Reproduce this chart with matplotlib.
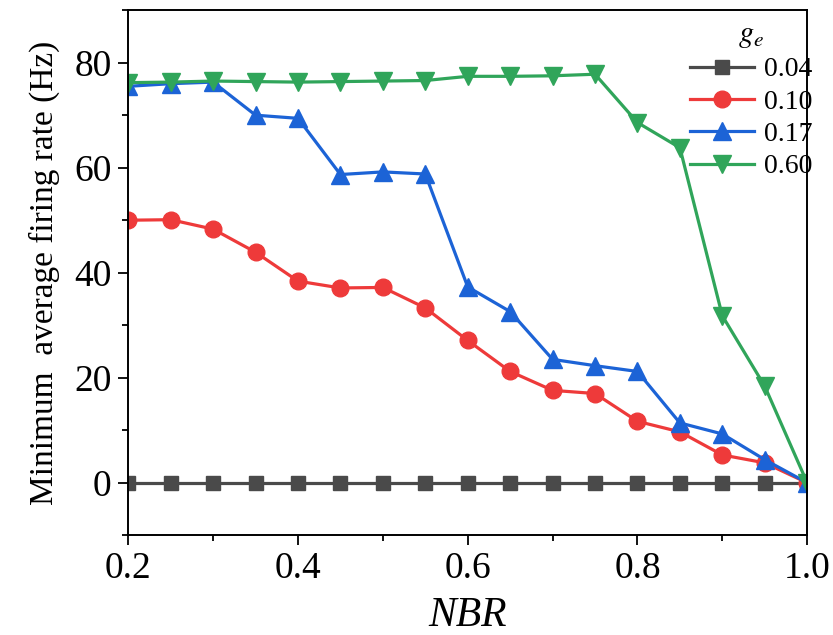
import matplotlib
matplotlib.use("Agg")
import matplotlib.pyplot as plt
from matplotlib.ticker import MultipleLocator

plt.rcParams['font.family'] = 'Liberation Serif'
plt.rcParams['mathtext.fontset'] = 'stix'

nbr = [0.2, 0.25, 0.3, 0.35, 0.4, 0.45, 0.5, 0.55, 0.6, 0.65,
       0.7, 0.75, 0.8, 0.85, 0.9, 0.95, 1.0]

rate_004 = [0] * 17
rate_010 = [50.0, 50.1, 48.3, 43.9, 38.4, 37.1, 37.2, 33.3, 27.1, 21.2,
            17.6, 17.0, 11.7, 9.7, 5.3, 3.8, 0.0]
rate_017 = [75.5, 76.0, 76.3, 70.0, 69.4, 58.7, 59.2, 58.8, 37.3, 32.6,
            23.5, 22.3, 21.2, 11.4, 9.3, 4.4, 0.0]
rate_060 = [76.2, 76.3, 76.5, 76.4, 76.3, 76.4, 76.5, 76.6, 77.4, 77.4,
            77.5, 77.8, 68.6, 63.8, 31.8, 18.4, 0.0]

labels = ['0.04', '0.10', '0.17', '0.60']

fig = plt.figure(figsize=(8.33, 6.35), dpi=100)
ax = fig.add_axes([0.154, 0.157, 0.815, 0.827])

ax.plot(nbr, rate_004, color='#4a4a4a', lw=2.3, marker='s', ms=9.5, label=labels[0])
ax.plot(nbr, rate_010, color='#ee3a3a', lw=2.3, marker='o', ms=12, label=labels[1])
ax.plot(nbr, rate_017, color='#1c63d6', lw=2.3, marker='^', ms=12.5, label=labels[2])
ax.plot(nbr, rate_060, color='#30a55a', lw=2.3, marker='v', ms=12.5, label=labels[3])

ax.set_xlim(0.2, 1.0)
ax.set_ylim(-10, 90)
ax.yaxis.set_major_locator(MultipleLocator(20))
ax.yaxis.set_minor_locator(MultipleLocator(10))
ax.xaxis.set_minor_locator(MultipleLocator(0.1))
ax.set_xticks([0.2, 0.4, 0.6, 0.8, 1.0])
ax.set_xticklabels(['0.2', '0.4', '0.6', '0.8', '1.0'])
ax.tick_params(which='major', direction='out', length=7, width=1.3, labelsize=27, pad=5)
ax.tick_params(which='minor', direction='out', length=4, width=1.3)
for s in ax.spines.values():
    s.set_linewidth(1.4)

ax.set_xlabel('NBR', fontsize=30, style='italic', labelpad=7)
ax.set_ylabel('Minimum  average firing rate (Hz)', fontsize=24, labelpad=10)

leg = ax.legend(title=r'$g_e$', loc='upper right', frameon=False, fontsize=20,
                title_fontsize=22, handlelength=2.3, handletextpad=0.35,
                labelspacing=0.25, borderaxespad=0.1, bbox_to_anchor=(1.028, 1.008))

fig.savefig('out.png', dpi=100)
